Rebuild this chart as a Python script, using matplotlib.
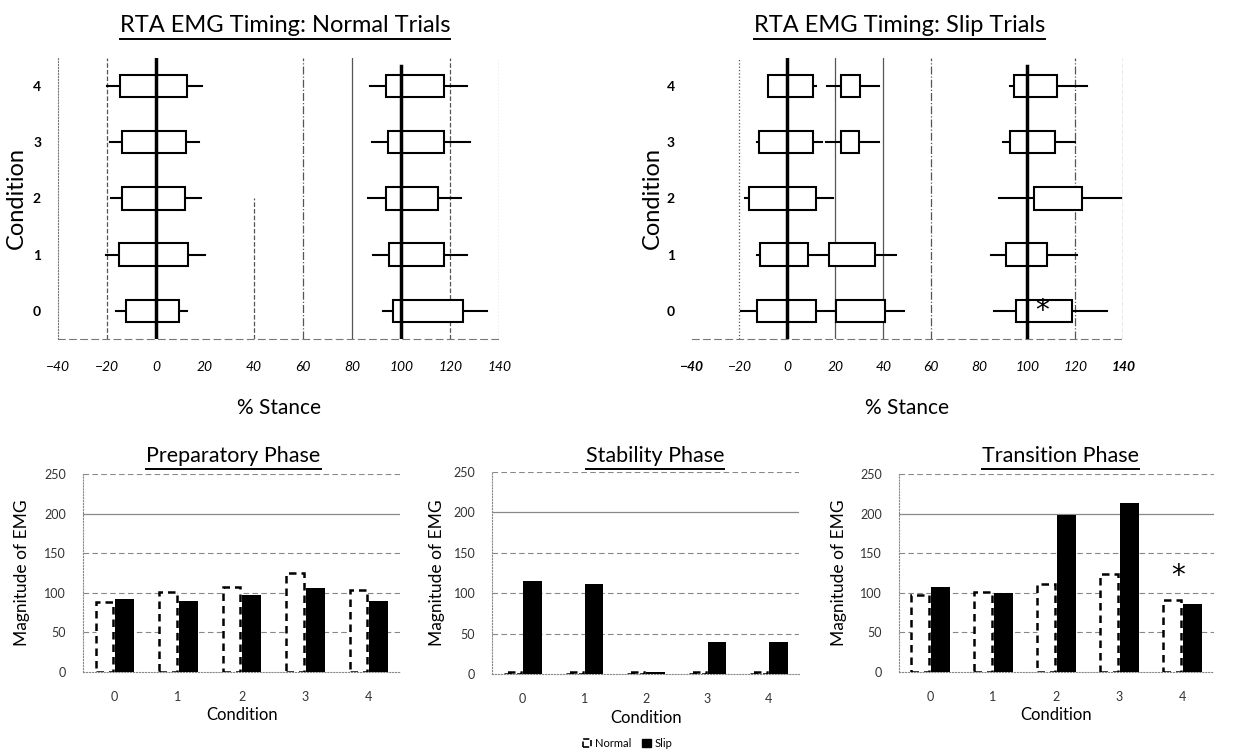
import numpy as np
import matplotlib.pyplot as plt
from matplotlib.patches import Rectangle, Patch
from matplotlib.lines import Line2D

plt.rcParams['font.family'] = ['Lato', 'DejaVu Sans']

conditions = [0, 1, 2, 3, 4]

# box data: (low whisker, q1, q3, high whisker) per condition 0..4
normal_early_lo = [-16.3, -20.4, -18.4, -18.8, -20.1]
normal_early_q1 = [-12.2, -15.0, -14.0, -14.0, -14.7]
normal_early_q3 = [9.4, 12.9, 12.0, 12.2, 12.5]
normal_early_hi = [12.5, 20.0, 18.2, 17.7, 18.8]

normal_late_lo = [92.4, 88.4, 86.6, 88.0, 87.3]
normal_late_q1 = [96.5, 95.0, 93.7, 94.5, 93.7]
normal_late_q3 = [125.3, 117.2, 114.9, 117.2, 117.2]
normal_late_hi = [134.9, 126.7, 124.3, 128.0, 126.7]

slip_early_lo = [-19.2, -12.5, -17.8, -12.9, -8.1]
slip_early_q1 = [-12.9, -11.3, -16.1, -12.0, -8.1]
slip_early_q3 = [12.1, 8.6, 11.8, 10.7, 10.7]
slip_early_hi = [20.4, 17.4, 19.0, 14.2, 12.0]

slip_mid_lo = [20.4, 17.4, np.nan, 16.0, 16.3]
slip_mid_q1 = [20.4, 17.4, np.nan, 22.5, 22.5]
slip_mid_q3 = [40.8, 36.4, np.nan, 29.9, 30.4]
slip_mid_hi = [48.5, 45.2, np.nan, 38.0, 38.2]

slip_late_lo = [86.0, 85.0, 88.3, 89.7, 92.7]
slip_late_q1 = [95.5, 91.3, 102.9, 92.7, 94.5]
slip_late_q3 = [118.7, 108.4, 123.0, 111.5, 112.5]
slip_late_hi = [133.2, 120.8, 139.0, 120.1, 124.9]

# bar data (magnitude of EMG)
prep_normal = [88, 101, 107, 125, 103]
prep_slip = [92, 89, 97, 106, 89]
stab_normal = [3, 3, 2, 3, 3]
stab_slip = [115, 112, 2, 39, 39]
trans_normal = [97, 101, 111, 124, 91]
trans_slip = [107, 100, 198, 214, 86]

fig = plt.figure(figsize=(12.55, 7.53), dpi=100)


def draw_boxes(ax, lo, q1, q3, hi):
    for c in conditions:
        if np.isnan(q1[c]):
            continue
        ax.plot([lo[c], q1[c]], [c, c], color='black', lw=1.5, zorder=2)
        ax.plot([q3[c], hi[c]], [c, c], color='black', lw=1.5, zorder=2)
        ax.add_patch(Rectangle((q1[c], c - 0.2), q3[c] - q1[c], 0.4,
                               facecolor='white', edgecolor='black', lw=1.5, zorder=3))


def timing_axes(rect, vlines, ylabel_x):
    ax = fig.add_axes(rect)
    ax.set_xlim(-40, 140)
    ax.set_ylim(-0.5, 4.5)
    ax.set_xticks(range(-40, 141, 20))
    ax.set_yticks(conditions)
    ax.tick_params(length=0, labelsize=10, pad=16, axis='x')
    ax.tick_params(length=0, labelsize=10, pad=12, axis='y')
    for lab in ax.get_xticklabels():
        lab.set_fontstyle('italic')
    for lab in ax.get_yticklabels():
        lab.set_fontweight('bold')
    for s in ['top', 'right']:
        ax.spines[s].set_visible(False)
    ax.spines['left'].set_linestyle(':')
    ax.spines['left'].set_color('#777777')
    ax.spines['bottom'].set_linestyle((0, (6, 4)))
    ax.spines['bottom'].set_color('#777777')
    for x, ls, y1 in vlines:
        ax.plot([x, x], [-0.5, y1], color='#555555', lw=0.9, ls=ls, zorder=1)
    ax.axvline(0, color='black', lw=2.5, zorder=4)
    ax.axvline(100, color='black', lw=2.5, ymax=0.97, zorder=4)
    ax.set_xlabel('% Stance', fontsize=15, labelpad=18)
    ax.set_ylabel('Condition', fontsize=17)
    ax.yaxis.set_label_coords(ylabel_x, 0.5)
    return ax


ax1 = timing_axes([0.046, 0.55, 0.352, 0.373],
                  [(-20, '--', 4.5), (40, '--', 2.0), (60, '-.', 4.5),
                   (80, '-', 4.5), (120, '--', 4.5), (140, ':', 4.5)], -0.07)
draw_boxes(ax1, normal_early_lo, normal_early_q1, normal_early_q3, normal_early_hi)
draw_boxes(ax1, normal_late_lo, normal_late_q1, normal_late_q3, normal_late_hi)

ax2 = timing_axes([0.551, 0.55, 0.344, 0.373],
                  [(-20, ':', 4.5), (20, '-', 4.5), (40, '-', 4.5),
                   (60, '-.', 4.5), (120, '-.', 4.5), (140, '--', 4.5)], -0.067)
ax2.spines['left'].set_visible(False)
draw_boxes(ax2, slip_early_lo, slip_early_q1, slip_early_q3, slip_early_hi)
draw_boxes(ax2, slip_mid_lo, slip_mid_q1, slip_mid_q3, slip_mid_hi)
draw_boxes(ax2, slip_late_lo, slip_late_q1, slip_late_q3, slip_late_hi)
ax2.text(106, 0, '*', ha='center', va='center', fontsize=20, family='DejaVu Sans', zorder=5)
for lab in ax2.get_xticklabels():
    if lab.get_text() in ('−40', '140', '-40'):
        lab.set_fontweight('bold')


def bar_axes(rect, normal, slip, ylabel_x):
    ax = fig.add_axes(rect)
    x = np.arange(len(conditions))
    ax.bar(x - 0.16, normal, width=0.28, facecolor='white', edgecolor='black',
           lw=1.8, ls=(0, (3, 2)), zorder=3)
    ax.bar(x + 0.16, slip, width=0.3, color='black', zorder=3)
    ax.set_xlim(-0.5, 4.5)
    ax.set_ylim(0, 250)
    ax.set_yticks(range(0, 251, 50))
    ax.set_xticks(x)
    ax.set_xticklabels([str(c) for c in conditions])
    ax.tick_params(length=0, labelsize=9, colors='#333333')
    ax.tick_params(axis='y', pad=12)
    ax.tick_params(axis='x', pad=14)
    for y in [50, 100, 150, 250]:
        ax.axhline(y, color='#888888', lw=0.8, ls=(0, (5, 3)), zorder=1)
    ax.axhline(200, color='#888888', lw=0.9, zorder=1)
    for s in ['top', 'right']:
        ax.spines[s].set_visible(False)
    ax.spines['left'].set_linestyle(':')
    ax.spines['left'].set_color('#888888')
    ax.spines['bottom'].set_linestyle(':')
    ax.spines['bottom'].set_color('#888888')
    ax.set_xlabel('Condition', fontsize=12, labelpad=3)
    ax.set_ylabel('Magnitude of EMG', fontsize=12.5)
    ax.yaxis.set_label_coords(ylabel_x, 0.5)
    return ax


bx1 = bar_axes([0.066, 0.108, 0.253, 0.262], prep_normal, prep_slip, -0.167)
bx2 = bar_axes([0.392, 0.105, 0.245, 0.268], stab_normal, stab_slip, -0.153)
bx3 = bar_axes([0.716, 0.108, 0.251, 0.262], trans_normal, trans_slip, -0.165)
bx3.text(3.93, 121, '*', ha='center', va='center', fontsize=20, family='DejaVu Sans')

titles = [
    (0.227, 0.958, 'RTA EMG Timing: Normal Trials', 17),
    (0.717, 0.958, 'RTA EMG Timing: Slip Trials', 17),
    (0.186, 0.386, 'Preparatory Phase', 15.5),
    (0.522, 0.386, 'Stability Phase', 15.5),
    (0.845, 0.386, 'Transition Phase', 15.5),
]
texts = [fig.text(x, y, t, ha='center', va='baseline', fontsize=s) for x, y, t, s in titles]

legend_handles = [Patch(facecolor='white', edgecolor='black', ls='--', lw=1.2, label='Normal'),
                  Patch(facecolor='black', edgecolor='black', label='Slip')]
fig.legend(handles=legend_handles, loc='center', bbox_to_anchor=(0.5, 0.013), ncol=2,
           frameon=False, fontsize=8, handlelength=0.8, handleheight=0.8,
           handletextpad=0.3, columnspacing=1.0)

# underline the titles
fig.canvas.draw()
renderer = fig.canvas.get_renderer()
for t in texts:
    bb = t.get_window_extent(renderer).transformed(fig.transFigure.inverted())
    fig.add_artist(Line2D([bb.x0, bb.x1], [bb.y0 - 0.004, bb.y0 - 0.004],
                          transform=fig.transFigure, color='black', lw=1.4))

fig.savefig('out.png', dpi=100)
